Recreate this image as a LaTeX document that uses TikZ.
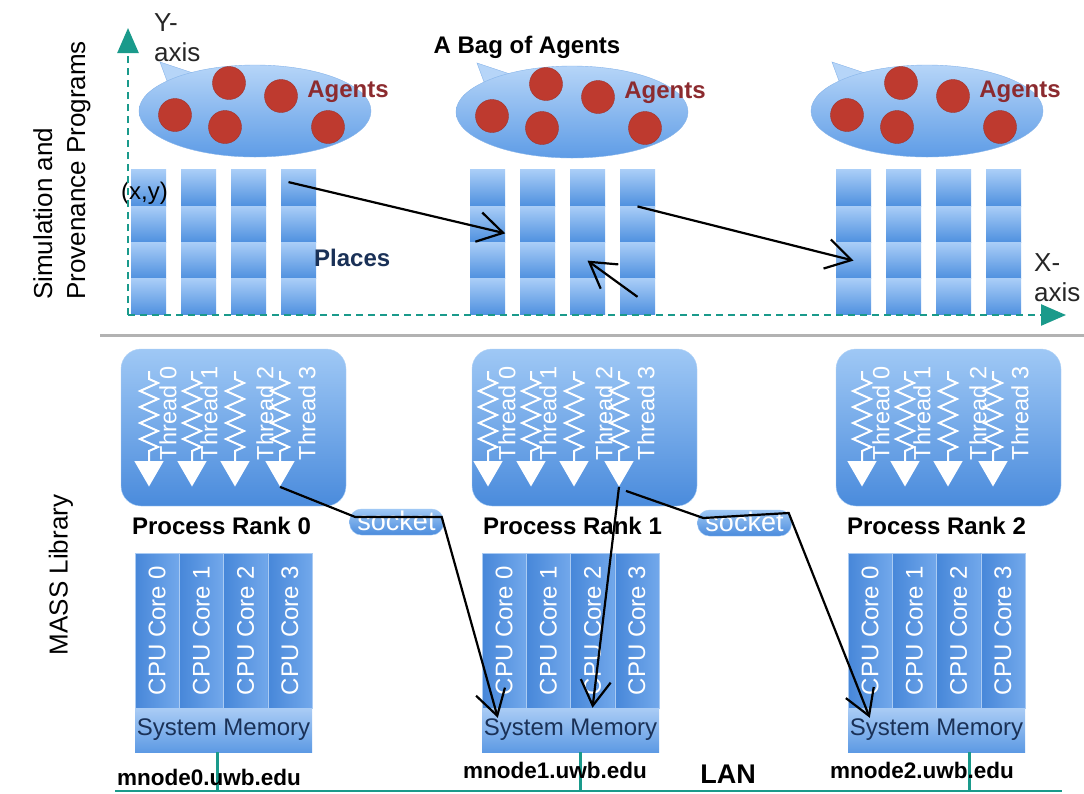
\documentclass[tikz,border=0pt]{standalone}
\usepackage{fontspec}
\setmainfont{Liberation Sans}
\usepackage{tikz}
\usetikzlibrary{calc}
\usetikzlibrary{positioning}
\usetikzlibrary{shapes.geometric,arrows.meta,decorations.pathmorphing}

\definecolor{axisteal}{HTML}{1A9A8B}
\definecolor{celltop}{HTML}{A9CDF7}
\definecolor{cellbot}{HTML}{4E90DF}
\definecolor{bagtop}{HTML}{B6D5F8}
\definecolor{bagbot}{HTML}{5E9CE6}
\definecolor{bagedge}{HTML}{86B4EA}
\definecolor{proctop}{HTML}{9FC8F5}
\definecolor{procbot}{HTML}{4A8BDC}
\definecolor{coretop}{HTML}{72A8EB}
\definecolor{corebot}{HTML}{4787D9}
\definecolor{memtop}{HTML}{AACCF5}
\definecolor{membot}{HTML}{5D9AE4}
\definecolor{agentred}{HTML}{BE3A2F}
\definecolor{agenttext}{HTML}{8C2B2F}
\definecolor{navy}{HTML}{1A3157}

\begin{document}
\begin{tikzpicture}[x=1pt,y=-1pt,>={Straight Barb[length=25pt,width=30pt]},
    txt/.style={inner sep=0pt,font=\fontsize{24}{28}\selectfont},
    btxt/.style={inner sep=0pt,font=\fontsize{24}{28}\selectfont\bfseries},
    host/.style={inner sep=0pt,font=\fontsize{22.5}{26}\selectfont\bfseries},
    side/.style={inner sep=0pt,rotate=90,align=left,font=\fontsize{26}{33}\selectfont},
    axis/.style={axisteal,line width=2.5pt,dash pattern=on 7pt off 5pt,-{Triangle[length=25pt,width=21pt]}},
    cell/.style={minimum width=35,minimum height=36.25,inner sep=0pt,top color=celltop,bottom color=cellbot},
    bag/.style={ellipse,minimum width=232,minimum height=92,draw=bagedge,top color=bagtop,bottom color=bagbot},
    agent/.style={circle,minimum size=33,inner sep=0pt,fill=agentred,draw=agentred!85!black},
    proc/.style={rounded corners=20pt,minimum width=225,minimum height=157,draw=proctop!80!white,top color=proctop,bottom color=procbot},
    tri/.style={regular polygon,regular polygon sides=3,shape border rotate=180,minimum size=34,inner sep=0pt,fill=white},
    zz/.style={white,line width=2pt,decorate,decoration={zigzag,segment length=16pt,amplitude=9pt,pre length=8pt,post length=2pt}},
    tlabel/.style={inner sep=0pt,rotate=90,text=white,font=\fontsize{23.5}{24}\selectfont},
    sock/.style={rounded corners=12pt,minimum width=94,minimum height=26,inner sep=0pt,draw=proctop,top color=proctop,bottom color=procbot,
      text=white,text height=17pt,text depth=0pt,font=\fontsize{27}{27}\selectfont},
    core/.style={rotate=90,minimum width=155,minimum height=44.25,inner sep=0pt,draw=coretop!60!white,left color=corebot,right color=coretop,text=white,font=\fontsize{24}{24}\selectfont},
    mem/.style={minimum width=177,minimum height=44,inner sep=0pt,top color=memtop,bottom color=membot,text=navy,font=\fontsize{24}{24}\selectfont},
    lan/.style={axisteal,line width=2.5pt},
    conn/.style={black,line width=2.2pt,->}
  ]
  \path[use as bounding box,fill=white] (0,0) rectangle (1084,793);

  \node[side,anchor=north west] (simlbl) at (33,300) {Simulation and\\Provenance Programs};
  \node[side] (masslbl) at (61,575) {MASS Library};
  \coordinate (sepL) at (100,335);
  \coordinate (sepR) at (1084,335);
  \draw[black!30,line width=3pt] (sepL) -- (sepR);

  \foreach \g/\px in {0/131,1/470,2/836}{
    \foreach \c in {0,...,3}{
      \foreach \r in {0,...,3}
        \node[cell] (p\g-\c-\r) at ({\px+50*\c+17.5},{188.1+36.25*\r}) {};
    }
  }
  \foreach \g/\bx/\by in {0/255/111,1/572/112,2/927/111}{
    \filldraw[draw=bagedge,fill=bagtop] (\bx-95,\by-49) -- (\bx-85,\by-22) -- (\bx-56,\by-36) -- cycle;
    \node[bag] (bag\g) at (\bx,\by) {};
    \foreach \dx/\dy [count=\k] in {-80/4,-26/-28,26/-15,-30/16,73/16}
      \node[agent] (agent\g-\k) at ($(bag\g)+(\dx,\dy)$) {};
    \node[btxt,text=agenttext] (agents\g) at ($(bag\g)+(93,-19)$) {Agents};
  }
  \node[btxt] (bagtitle) at (527,47) {A Bag of Agents};
  \node[btxt,text=navy,anchor=west] (places) at (314,258) {Places};
  \node[txt,anchor=west] (xy) at (121,193) {(x,y)};

  \coordinate (org) at (128,315);
  \coordinate (ytip) at (128,28);
  \coordinate (xtip) at (1066,315);
  \draw[axis] (org) -- (ytip);
  \draw[axis] (org) -- (xtip);
  \node[txt,align=left,anchor=west,text=black!85,font=\fontsize{26}{30}\selectfont] (ylbl) at (154,38) {Y-\\axis};
  \node[txt,align=left,anchor=west,text=black!85,font=\fontsize{26}{30}\selectfont] (xlbl) at (1034,278) {X-\\axis};

  \draw[conn] ($(p0-3-0.center)+(-10,-6)$) -- ($(p1-0-1.east)+(0,9)$);
  \draw[conn] (p1-3-0.south) -- (p2-0-2.center);
  \draw[conn] (p1-3-3.center) -- (p1-2-2.center);

  \foreach \i/\bl/\f in {0/121/28,1/472/16,2/836/26}{
    \node[proc] (proc\i) at (\bl+112.5,427.5) {};
    \foreach \t/\dx/\lx in {0/0/19,1/43/17,2/86/30,3/131/27}{
      \node[tri] (t\i-\t) at (\bl+\f+\dx,469.5) {};
      \draw[zz] (\bl+\f+\dx,371) -- (t\i-\t.north);
      \node[tlabel] (tl\i-\t) at (\bl+\f+\dx+\lx,413) {Thread \t};
    }
    \node[btxt,below=11pt of proc\i,xshift=-12pt] (rank\i) {Process Rank \i};
  }
  \node[sock] (sock0) at (396.5,522) {socket};
  \node[sock] (sock1) at (744.5,523) {socket};

  \coordinate (lanL) at (115,791);
  \coordinate (lanR) at (1062,791);
  \draw[lan] (lanL) -- (lanR);
  \foreach \i/\cl/\lx in {0/135/-6,1/482/10,2/848/33}{
    \foreach \k in {0,...,3}
      \node[core] (core\i-\k) at (\cl+22.125+44.25*\k,630.5) {CPU Core \k};
    \node[mem] (mem\i) at (\cl+88.5,730) {System Memory};
    \draw[lan] ($(mem\i.south)+(\lx,0)$) coordinate (drop\i) -- (drop\i |- lanL);
  }
  \node[host] (host0) at (209,777) {mnode0.uwb.edu};
  \node[host] (host1) at (555,770) {mnode1.uwb.edu};
  \node[host] (host2) at (922,770) {mnode2.uwb.edu};
  \node[btxt,font=\fontsize{27}{30}\selectfont\bfseries] (lan) at (728,774) {LAN};

  \draw[conn] (t0-3.south) -- ($(sock0.west)+(6,-5)$) -- ($(sock0.east)+(-2,-5)$) -- ($(mem1.north west)+(16,10)$);
  \draw[conn] (t1-3.south) -- ($(mem1.north)+(22,0)$);
  \draw[conn] ($(t1-3.south)+(7,4)$) -- ($(sock1.west)+(6,-5)$) -- ($(sock1.east)+(-3,-10)$) -- ($(mem2.north west)+(22,10)$);
\end{tikzpicture}
\end{document}
